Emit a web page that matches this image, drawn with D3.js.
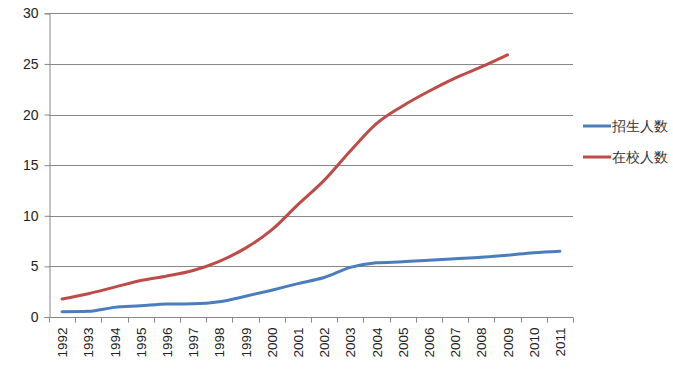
<!DOCTYPE html>
<html>
<head>
<meta charset="utf-8">
<script src="https://cdn.jsdelivr.net/npm/d3@7"></script>
<style>
  body { margin: 0; background: #fff; }
  svg { display: block; }
  text { font-family: "Liberation Sans", Arial, sans-serif; }
</style>
</head>
<body>
<svg id="chart" width="673" height="369"></svg>
<script>
// Years on the category axis
const years = ["1992","1993","1994","1995","1996","1997","1998","1999","2000","2001",
               "2002","2003","2004","2005","2006","2007","2008","2009","2010","2011"];
// 招生人数 (enrolment)
const enrolled = [0.52, 0.56, 0.95, 1.1, 1.28, 1.3, 1.5, 2.05, 2.65, 3.3,
                  3.9, 4.9, 5.35, 5.45, 5.6, 5.75, 5.9, 6.1, 6.35, 6.5];
// 在校人数 (students on campus), series stops at 2009
const onCampus = [1.78, 2.3, 2.95, 3.6, 4.05, 4.6, 5.5, 6.8, 8.6, 11.1,
                  13.5, 16.4, 19.1, 20.85, 22.3, 23.6, 24.7, 25.9];
const yTicks = [0, 5, 10, 15, 20, 25, 30];
const seriesNames = ["招生人数", "在校人数"];
const seriesColors = ["#4a7ebb", "#be4b48"];

const svg = d3.select("#chart");
const plotL = 49, plotR = 573, plotT = 13.3, plotB = 317;

const x = d3.scaleBand().domain(years).range([plotL, plotR]);
const y = d3.scaleLinear().domain([0, 30]).range([plotB, plotT]);

// horizontal gridlines
svg.append("g").selectAll("line").data(yTicks.filter(d => d > 0)).join("line")
  .attr("x1", plotL).attr("x2", plotR)
  .attr("y1", d => Math.round(y(d)) + 0.5).attr("y2", d => Math.round(y(d)) + 0.5)
  .attr("stroke", "#878787").attr("stroke-width", 1);

// value axis
const yAxis = svg.append("g").attr("transform", `translate(${plotL + 0.5},0)`)
  .call(d3.axisLeft(y).tickValues(yTicks).tickSize(5).tickPadding(6));
yAxis.select(".domain").attr("stroke", "#878787");
yAxis.selectAll(".tick line").attr("stroke", "#878787");
yAxis.selectAll(".tick text").attr("font-size", 14).attr("fill", "#222")
  .attr("font-family", "Liberation Sans, Arial, sans-serif");

// category axis with ticks between categories
const xAxisG = svg.append("g").attr("transform", `translate(0,${Math.round(plotB) + 0.5})`);
xAxisG.append("line").attr("x1", plotL).attr("x2", plotR).attr("stroke", "#878787");
const bounds = d3.range(years.length + 1).map(i => plotL + i * x.step());
xAxisG.selectAll(".tk").data(bounds).join("line").attr("class", "tk")
  .attr("x1", d => Math.round(d) + 0.5).attr("x2", d => Math.round(d) + 0.5)
  .attr("y1", 0).attr("y2", 5).attr("stroke", "#878787");
xAxisG.selectAll("text").data(years).join("text")
  .attr("transform", d => `translate(${x(d) + x.bandwidth() / 2 + 5},10) rotate(-90)`)
  .attr("text-anchor", "end")
  .attr("font-size", 13.5).attr("fill", "#222")
  .text(d => d);

// series lines
const line = d3.line()
  .x((d, i) => x(years[i]) + x.bandwidth() / 2)
  .y(d => y(d))
  .curve(d3.curveMonotoneX);

[enrolled, onCampus].forEach((vals, k) => {
  svg.append("path").datum(vals)
    .attr("fill", "none")
    .attr("stroke", seriesColors[k])
    .attr("stroke-width", 3)
    .attr("stroke-linejoin", "round")
    .attr("stroke-linecap", "round")
    .attr("d", line);
});

// legend
const legend = svg.append("g");
seriesNames.forEach((name, k) => {
  const ly = 126 + k * 31;
  legend.append("line").attr("x1", 583).attr("x2", 611).attr("y1", ly).attr("y2", ly)
    .attr("stroke", seriesColors[k]).attr("stroke-width", 3);
  legend.append("text").attr("x", 612).attr("y", ly + 5)
    .attr("font-family", "Noto Sans CJK SC")
    .attr("font-size", 14).attr("fill", "#333")
    .text(name);
});
</script>
</body>
</html>
